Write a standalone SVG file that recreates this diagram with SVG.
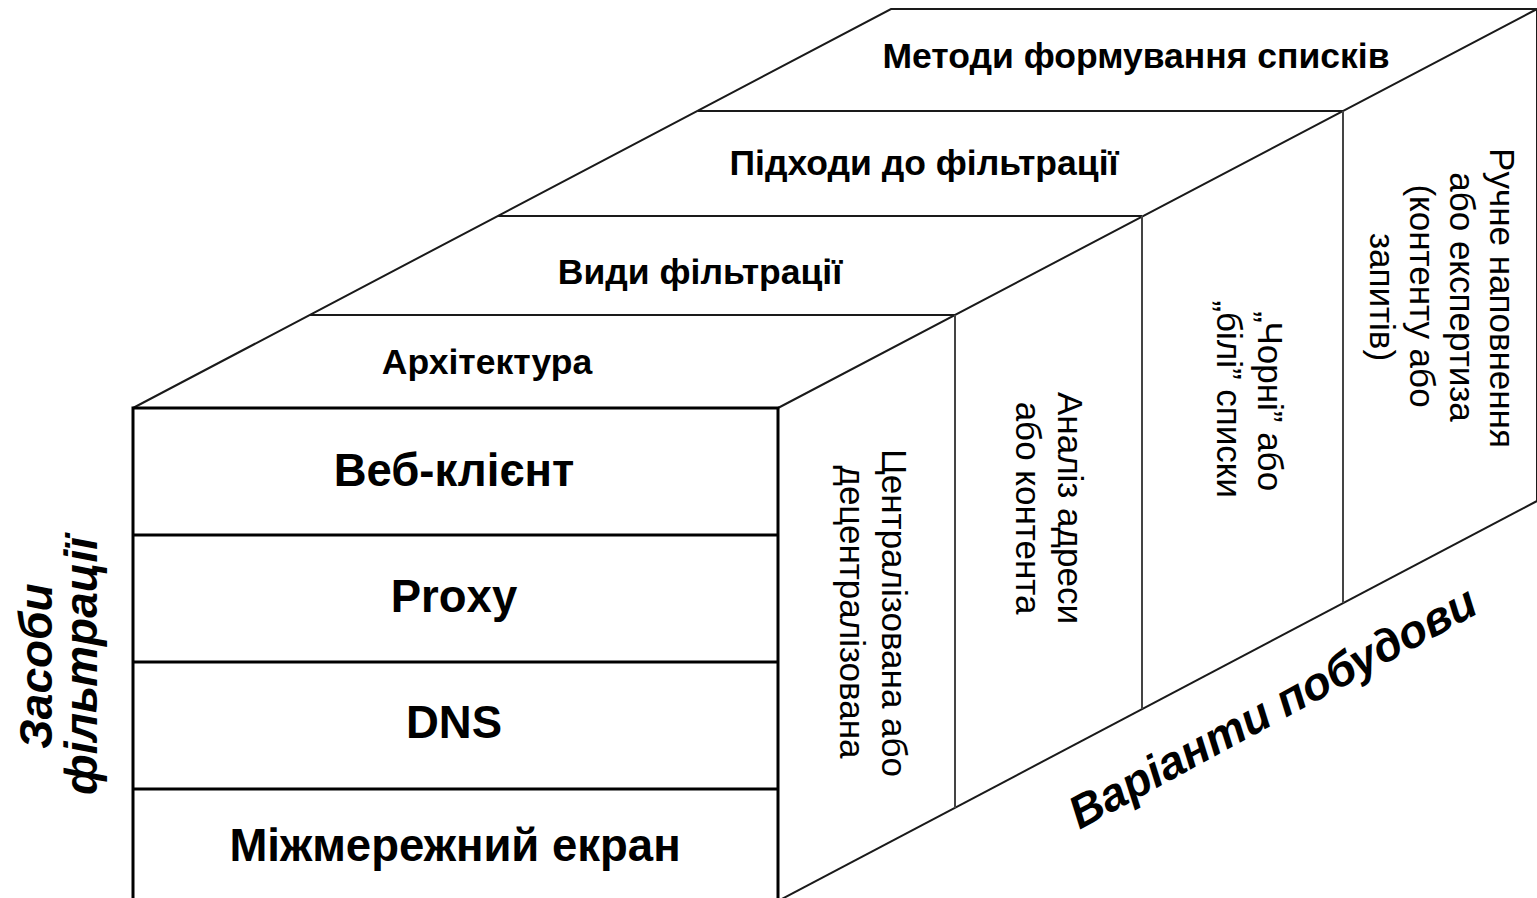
<svg xmlns="http://www.w3.org/2000/svg" width="1537" height="898" viewBox="0 0 1537 898">
<style>
.edge{stroke:#1a1a1a;stroke-width:2;fill:none}
.thin{stroke:#444;stroke-width:2;fill:none}
.front{stroke:#000;stroke-width:3;fill:none}
.b{font-family:"Liberation Sans",Arial,sans-serif;font-weight:bold;fill:#000}
.t34{font-size:35.5px}
.t44{font-size:45.5px}
.v{font-family:"Liberation Sans",Arial,sans-serif;font-size:35px;fill:#000}
.bi{font-family:"Liberation Sans",Arial,sans-serif;font-weight:bold;font-style:italic;font-size:46px;fill:#000}
</style>
<rect x="0" y="0" width="1537" height="898" fill="#fff"/>

<g id="connectors">
  <!-- top face outline -->
  <polyline class="edge" points="133,408 891,9 1537,9 778,408"/>
  <!-- top face strip dividers -->
  <line class="edge" x1="310" y1="315" x2="955" y2="315"/>
  <line class="edge" x1="498" y1="216" x2="1142" y2="216"/>
  <line class="edge" x1="698" y1="111" x2="1343" y2="111"/>
  <!-- right face -->
  <line class="edge" x1="1537" y1="9" x2="1537" y2="501"/>
  <line class="edge" x1="1537" y1="501" x2="778" y2="901"/>
  <line class="thin" x1="955" y1="315" x2="955" y2="808"/>
  <line class="thin" x1="1142" y1="216" x2="1142" y2="709"/>
  <line class="thin" x1="1343" y1="111" x2="1343" y2="603"/>
  <!-- front face -->
  <polyline class="front" points="133,905 133,408 778,408 778,905"/>
  <line class="front" x1="133" y1="535" x2="778" y2="535"/>
  <line class="front" x1="133" y1="662" x2="778" y2="662"/>
  <line class="front" x1="133" y1="789" x2="778" y2="789"/>
</g>

<g id="top-methods"><text class="b t34" x="1136" y="68" text-anchor="middle">Методи формування списків</text></g>
<g id="top-approaches"><text class="b t34" x="924" y="175" text-anchor="middle">Підходи до фільтрації</text></g>
<g id="top-types"><text class="b t34" x="700" y="284" text-anchor="middle">Види фільтрації</text></g>
<g id="top-architecture"><text class="b t34" x="487" y="374" text-anchor="middle">Архітектура</text></g>

<g id="front-webclient"><text class="b t44" x="454" y="486" text-anchor="middle">Веб-клієнт</text></g>
<g id="front-proxy"><text class="b t44" x="454" y="612" text-anchor="middle">Proxy</text></g>
<g id="front-dns"><text class="b t44" x="454" y="738" text-anchor="middle">DNS</text></g>
<g id="front-firewall"><text class="b t44" x="455" y="861" text-anchor="middle">Міжмережний екран</text></g>

<g id="side-architecture">
  <text class="v" transform="translate(882,613) rotate(90)" text-anchor="middle">Централізована або</text>
  <text class="v" transform="translate(840,612) rotate(90)" text-anchor="middle">децентралізована</text>
</g>
<g id="side-types">
  <text class="v" transform="translate(1058,508) rotate(90)" text-anchor="middle">Аналіз адреси</text>
  <text class="v" transform="translate(1016,508) rotate(90)" text-anchor="middle">або контента</text>
</g>
<g id="side-approaches">
  <text class="v" transform="translate(1258,401) rotate(90)" text-anchor="middle">„Чорні” або</text>
  <text class="v" transform="translate(1217,399) rotate(90)" text-anchor="middle">„білі” списки</text>
</g>
<g id="side-methods">
  <text class="v" transform="translate(1490,298) rotate(90)" text-anchor="middle">Ручне наповнення</text>
  <text class="v" transform="translate(1450,297) rotate(90)" text-anchor="middle">або експертиза</text>
  <text class="v" transform="translate(1410,296) rotate(90)" text-anchor="middle">(контенту або</text>
  <text class="v" transform="translate(1370,297) rotate(90)" text-anchor="middle">запитів)</text>
</g>

<g id="axis-tools">
  <text class="bi" transform="translate(52,666) rotate(-90)" text-anchor="middle">Засоби</text>
  <text class="bi" transform="translate(97,666) rotate(-90)" text-anchor="middle">фільтрації</text>
</g>
<g id="axis-variants">
  <text class="bi" transform="translate(1280,721) rotate(-28.5)" text-anchor="middle">Варіанти побудови</text>
</g>
</svg>
